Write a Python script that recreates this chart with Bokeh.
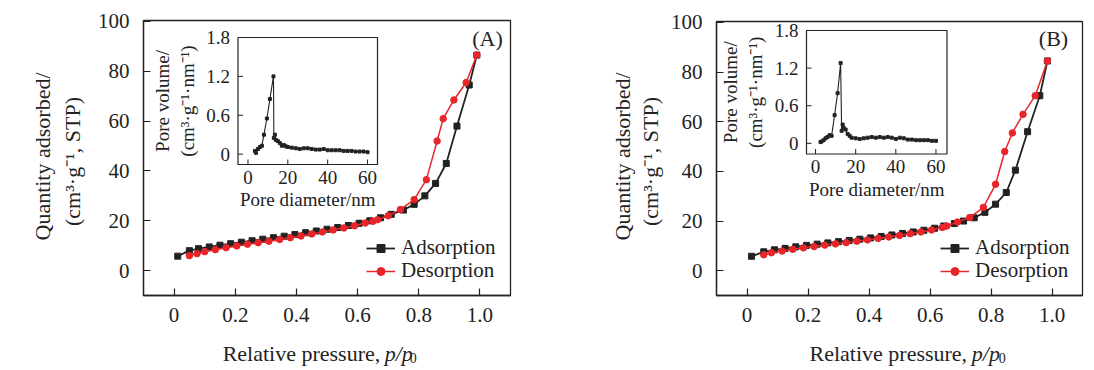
import math
from bokeh.plotting import figure
from bokeh.models import Range1d, FixedTicker, Label, Legend, LegendItem, CustomJSTickFormatter
from bokeh.layouts import row, column
from bokeh.embed import file_html
from bokeh.resources import INLINE
from bokeh.core.properties import value

FONT = "Liberation Serif"
INK = "#222222"
RED = "#e8262a"

# ---------------- data ----------------
x_ticks = [0, 0.2, 0.4, 0.6, 0.8, 1.0]
y_ticks = [0, 20, 40, 60, 80, 100]
inset_x_ticks = [0, 20, 40, 60]
inset_y_ticks = [0, 0.6, 1.2, 1.8]
inset_y_tick_labels = ["0", "0.6", "1.2", "1.8"]

a_ads_x = [0.012, 0.05, 0.08, 0.115, 0.15, 0.185, 0.22, 0.255, 0.29, 0.325, 0.36, 0.395, 0.43, 0.465,
           0.50, 0.535, 0.57, 0.605, 0.64, 0.675, 0.71, 0.75, 0.785, 0.82, 0.855, 0.89, 0.925, 0.965, 0.99]
a_ads_y = [5.8, 8.0, 8.8, 9.5, 10.2, 10.8, 11.4, 12.0, 12.6, 13.2, 13.8, 14.5, 15.2, 15.9,
           16.6, 17.3, 18.1, 19.0, 20.0, 21.2, 22.6, 24.3, 26.6, 30.0, 35.0, 43.0, 58.0, 74.5, 86.5]
a_des_x = [0.05, 0.075, 0.10, 0.135, 0.17, 0.205, 0.24, 0.275, 0.31, 0.345, 0.38, 0.415, 0.45, 0.485,
           0.52, 0.555, 0.59, 0.625, 0.65, 0.665, 0.70, 0.74, 0.785, 0.825, 0.86, 0.88, 0.915, 0.955, 0.99]
a_des_y = [6.0, 6.8, 7.6, 8.4, 9.2, 9.9, 10.6, 11.2, 11.8, 12.5, 13.2, 13.9, 14.7, 15.5,
           16.3, 17.1, 18.0, 19.1, 19.8, 20.4, 22.0, 24.5, 28.5, 36.5, 52.0, 61.0, 68.5, 75.5, 86.5]

b_ads_x = [0.015, 0.055, 0.09, 0.125, 0.16, 0.195, 0.23, 0.265, 0.30, 0.335, 0.37, 0.405, 0.44, 0.475,
           0.51, 0.545, 0.58, 0.615, 0.645, 0.68, 0.71, 0.745, 0.78, 0.815, 0.85, 0.88, 0.92, 0.96, 0.985]
b_ads_y = [5.8, 7.6, 8.4, 9.0, 9.6, 10.2, 10.7, 11.2, 11.7, 12.2, 12.7, 13.2, 13.8, 14.4,
           15.0, 15.6, 16.3, 17.1, 18.0, 19.0, 20.0, 21.3, 23.5, 26.8, 31.5, 40.5, 56.0, 70.5, 84.5]
b_des_x = [0.055, 0.08, 0.115, 0.15, 0.185, 0.22, 0.255, 0.29, 0.325, 0.36, 0.395, 0.43, 0.465, 0.50,
           0.535, 0.57, 0.605, 0.64, 0.655, 0.69, 0.73, 0.775, 0.815, 0.845, 0.87, 0.905, 0.945, 0.985]
b_des_y = [6.4, 7.2, 7.9, 8.6, 9.2, 9.7, 10.3, 10.8, 11.3, 11.9, 12.4, 13.0, 13.6, 14.2,
           14.9, 15.6, 16.4, 17.4, 18.0, 19.6, 21.4, 25.5, 34.8, 48.0, 55.5, 63.0, 70.5, 84.5]

a_psd_x = [3.5, 4.0, 5.0, 6.0, 7.0, 8.0, 9.5, 11.0, 12.8, 13.0, 13.5, 14.0, 15.0, 16.0, 17.0, 18.0, 19.0,
           20.0, 22.0, 24.0, 26.0, 28.0, 30.0, 32.0, 34.0, 36.0, 38.0, 40.0, 42.0, 44.0, 46.0, 48.0,
           50.0, 52.0, 54.0, 56.0, 58.0, 60.0]
a_psd_y = [0.05, 0.02, 0.08, 0.11, 0.13, 0.30, 0.55, 0.85, 1.20, 0.25, 0.30, 0.22, 0.20, 0.17, 0.13, 0.14,
           0.12, 0.11, 0.10, 0.09, 0.08, 0.09, 0.09, 0.08, 0.07, 0.07, 0.08, 0.06, 0.06, 0.06, 0.06, 0.05,
           0.05, 0.05, 0.04, 0.04, 0.04, 0.03]

b_psd_x = [2.5, 3.0, 4.0, 5.0, 6.0, 7.0, 8.0, 9.5, 11.0, 12.5, 13.0, 13.5, 14.0, 15.0, 16.0, 17.0, 18.0,
           20.0, 22.0, 24.0, 26.0, 28.0, 30.0, 32.0, 34.0, 36.0, 38.0, 40.0, 42.0, 44.0, 46.0, 48.0,
           50.0, 52.0, 54.0, 56.0, 58.0, 60.0]
b_psd_y = [0.02, 0.03, 0.05, 0.08, 0.10, 0.13, 0.12, 0.45, 0.80, 1.28, 0.20, 0.30, 0.25, 0.22, 0.15, 0.12,
           0.09, 0.08, 0.07, 0.08, 0.09, 0.10, 0.09, 0.10, 0.09, 0.10, 0.09, 0.07, 0.09, 0.08, 0.06, 0.06,
           0.05, 0.05, 0.05, 0.05, 0.04, 0.04]

y_title_lines = ["Quantity adsorbed/", "(cm\u00b3\u00b7g\u207b\u00b9, STP)"]
x_title_parts = ["Relative pressure,", "p/p", "0"]
inset_y_title_lines = ["Pore volume/", "(cm\u00b3\u00b7g\u207b\u00b9\u00b7nm\u207b\u00b9)"]
inset_x_title = "Pore diameter/nm"

main_x_range = (-0.1, 1.1)
main_y_range = (-10.0, 100.4)
FIG_H = 368
MAIN_H = 330


def blank_fig(w, h):
    f = figure(width=w, height=h, x_range=Range1d(0, w), y_range=Range1d(0, h),
               x_axis_type=None, y_axis_type=None,
               min_border_left=0, min_border_right=0, min_border_top=0, min_border_bottom=0,
               output_backend="svg", toolbar_location=None)
    f.grid.visible = False
    f.outline_line_color = None
    f.background_fill_color = "white"
    f.border_fill_color = "white"
    return f


def build_main(tag, ads_x, ads_y, des_x, des_y, psd_x, psd_y, g):
    FL, FT, FW, FH = g["FL"], g["FT"], g["FW"], g["FH"]
    FB = FT + FH
    x0, x1 = main_x_range
    y0, y1 = main_y_range

    p = figure(frame_width=FW, frame_height=FH,
               min_border_left=FL - g["main_left"], min_border_top=FT,
               min_border_right=g["border_right"], min_border_bottom=MAIN_H - FB,
               x_range=Range1d(x0, x1), y_range=Range1d(y0, y1),
               output_backend="svg", toolbar_location=None)
    p.grid.visible = False
    p.outline_line_color = INK
    p.outline_line_width = 1.3
    p.background_fill_color = "white"
    p.border_fill_color = "white"

    for ax in (p.xaxis[0], p.yaxis[0]):
        ax.axis_line_color = INK
        ax.axis_line_width = 1.3
        ax.major_tick_line_color = INK
        ax.major_tick_line_width = 1.2
        ax.major_tick_in = 7
        ax.major_tick_out = 0
        ax.minor_tick_line_color = None
        ax.major_label_text_font = FONT
        ax.major_label_text_font_size = "21px"
        ax.major_label_text_color = INK
    p.xaxis.ticker = FixedTicker(ticks=x_ticks)
    p.yaxis.ticker = FixedTicker(ticks=y_ticks)
    p.xaxis.formatter = CustomJSTickFormatter(code="return tick == 0 ? '0' : tick.toFixed(1);")
    p.xaxis.major_label_standoff = 12
    p.yaxis.major_label_standoff = g["ystand"]

    # main curves
    l_ads = p.line(ads_x, ads_y, line_color=INK, line_width=1.8)
    s_ads = p.scatter(ads_x, ads_y, marker="square", size=6, fill_color=INK, line_color=INK)
    l_des = p.line(des_x, des_y, line_color=RED, line_width=1.5)
    s_des = p.scatter(des_x, des_y, marker="circle", size=6.5, fill_color=RED, line_color=RED)

    leg_kw = dict(padding=0, spacing=0, margin=0, glyph_width=29, glyph_height=20, label_height=20,
                  label_standoff=6, label_text_font=FONT, label_text_font_size="21px",
                  label_text_color=INK, border_line_color=None, background_fill_alpha=0)
    p.add_layout(Legend(items=[LegendItem(label="Adsorption", renderers=[l_ads, s_ads])],
                        location=(g["leg_x"], 35), **leg_kw))
    p.add_layout(Legend(items=[LegendItem(label="Desorption", renderers=[l_des, s_des])],
                        location=(g["leg_x"], 12), **leg_kw))

    # inset, drawn through extra ranges
    IL, IR, IT, IB = g["IL"], g["IR"], g["IT"], g["IB"]
    ix0, ix1 = g["ixr"]
    iy0, iy1 = g["iyr"]
    sx = (ix1 - ix0) / (IR - IL)
    sy = (iy1 - iy0) / (IB - IT)
    p.extra_x_ranges = {"ix": Range1d(ix0 - (IL - FL) * sx, ix1 + (FL + FW - IR) * sx)}
    p.extra_y_ranges = {"iy": Range1d(iy0 - (FB - IB) * sy, iy1 + (IT - FT) * sy)}
    kw = dict(x_range_name="ix", y_range_name="iy")

    def idx(px):
        return ix0 + (px - IL) * sx

    def idy(py):
        return iy1 - (py - IT) * sy

    p.quad(left=[ix0], right=[ix1], bottom=[iy0], top=[iy1], fill_color="white",
           line_color=INK, line_width=1.2, **kw)
    tick_len = 5
    p.segment(x0=inset_x_ticks, x1=inset_x_ticks, y0=[iy0] * 4, y1=[iy0 + tick_len * sy] * 4,
              line_color=INK, line_width=1, **kw)
    p.segment(x0=[ix0] * 4, x1=[ix0 + tick_len * sx] * 4, y0=inset_y_ticks, y1=inset_y_ticks,
              line_color=INK, line_width=1, **kw)
    p.line(psd_x, psd_y, line_color=INK, line_width=1.1, **kw)
    p.scatter(psd_x, psd_y, marker="square", size=3, fill_color=INK, line_color=INK, **kw)

    tf = dict(text_font=value(FONT), text_color=INK, text_font_size="19px")
    p.text(x=inset_x_ticks, y=[idy(IB + 12.5)] * 4, text=[str(t) for t in inset_x_ticks],
           text_align="center", text_baseline="middle", **tf, **kw)
    p.text(x=[idx(IL - 8)] * 4, y=inset_y_ticks, text=inset_y_tick_labels,
           text_align="right", text_baseline="middle", **tf, **kw)
    p.text(x=[idx((IL + IR) / 2)], y=[idy(IB + 35)], text=[inset_x_title],
           text_align="center", text_baseline="middle", **tf, **kw)
    p.text(x=[idx(IL - 76), idx(IL - 51)], y=[idy((IT + IB) / 2)] * 2,
           text=inset_y_title_lines,
           angle=math.pi / 2, text_align="center", text_baseline="middle", **tf, **kw)

    p.add_layout(Label(x=g["tag_x"] - FL, y=FB - g["tag_y"], x_units="screen", y_units="screen",
                       text=tag, text_align="center", text_baseline="middle",
                       text_font=FONT, text_color=INK, text_font_size="22px"))
    return p


def build_panel(tag, ads_x, ads_y, des_x, des_y, psd_x, psd_y, g):
    left = g["panel_left"]
    yw = g["ytitle_w"]
    main_left = left + yw
    g = dict(g, main_left=main_left)
    p = build_main(tag, ads_x, ads_y, des_x, des_y, psd_x, psd_y, g)
    main_w = (g["FL"] - main_left) + g["FW"] + g["border_right"]

    # y title figure (pixel coordinates, y upward)
    yt = blank_fig(yw, FIG_H)
    yt.text(x=[g["yt1"] - left, g["yt2"] - left], y=[FIG_H - 156, FIG_H - 161], text=y_title_lines,
            angle=math.pi / 2, text_align="center", text_baseline="middle",
            text_font=value(FONT), text_color=INK, text_font_size="22px")

    # x title figure
    xh = FIG_H - MAIN_H
    xt = blank_fig(main_w, xh)
    fs = 22
    w1 = 7.165 * fs
    gap = 0.25 * fs
    w2 = 1.278 * fs + 3
    w3 = 0.5 * 14
    cx = g["FL"] + g["FW"] / 2 - main_left
    start = cx - (w1 + gap + w2 + w3) / 2
    split = start + w1
    base = FIG_H - 353
    xt.text(x=[split], y=[base], text=[x_title_parts[0]], text_align="right",
            text_baseline="alphabetic", text_font=value(FONT), text_color=INK, text_font_size="22px")
    xt.text(x=[split + gap], y=[base], text=[x_title_parts[1]], text_align="left",
            text_baseline="alphabetic", text_font=value(FONT), text_font_style="italic",
            text_color=INK, text_font_size="22px")
    xt.text(x=[split + gap + w2], y=[base - 4], text=[x_title_parts[2]], text_align="left",
            text_baseline="alphabetic", text_font=value(FONT), text_color=INK, text_font_size="14px")
    return row(yt, column(p, xt))


geom_a = dict(panel_left=0, ytitle_w=90, FL=143, FT=20, FW=367, FH=275, border_right=35, ystand=14,
              IL=237.5, IR=377, IT=37, IB=164, ixr=(-5.0, 65.0), iyr=(-0.16, 1.8),
              leg_x=223, yt1=41.7, yt2=71.7, tag_x=487, tag_y=38)
geom_b = dict(panel_left=545, ytitle_w=120, FL=716, FT=21, FW=366, FH=274, border_right=8, ystand=14,
              IL=806, IR=946.5, IT=30, IB=153.5, ixr=(-4.5, 65.5), iyr=(-0.17, 1.8),
              leg_x=224, yt1=621.7, yt2=650, tag_x=1053, tag_y=37.5)

panel_a = build_panel("(A)", a_ads_x, a_ads_y, a_des_x, a_des_y, a_psd_x, a_psd_y, geom_a)
panel_b = build_panel("(B)", b_ads_x, b_ads_y, b_des_x, b_des_y, b_psd_x, b_psd_y, geom_b)

layout = row(panel_a, panel_b)
open("out.html", "w").write(file_html(layout, INLINE))
